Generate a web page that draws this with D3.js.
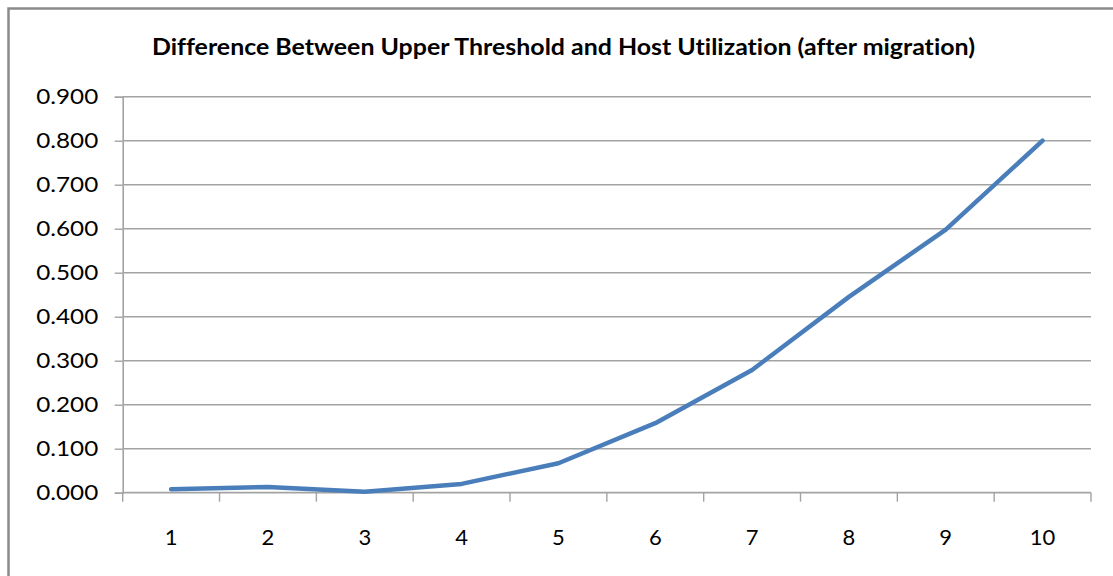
<!DOCTYPE html>
<html>
<head>
<meta charset="utf-8">
<script src="https://cdn.jsdelivr.net/npm/d3@7"></script>
<style>
  html, body { margin: 0; padding: 0; background: #fff; }
  svg { display: block; }
  text { font-family: Lato, "Open Sans", sans-serif; fill: #000; font-variant-ligatures: none; }
</style>
</head>
<body>
<svg id="chart" width="1113" height="576"></svg>
<script>
// Chart data
const categories = ["1", "2", "3", "4", "5", "6", "7", "8", "9", "10"];
const differenceValues = [0.008, 0.013, 0.002, 0.020, 0.067, 0.158, 0.279, 0.445, 0.598, 0.800];
const yTickValues = [0, 0.1, 0.2, 0.3, 0.4, 0.5, 0.6, 0.7, 0.8, 0.9];
const chartTitle = "Difference Between Upper Threshold and Host Utilization (after migration)";

const svg = d3.select("#chart");
const W = 1113, H = 576;
const plot = { left: 122.7, right: 1091, top: 96.7, bottom: 492.7 };

// Outer frame (runs off the right and bottom edges)
svg.append("rect")
  .attr("x", 8.5).attr("y", 8.5)
  .attr("width", W + 10).attr("height", H + 10)
  .attr("fill", "none")
  .attr("stroke", "#8a8a8a")
  .attr("stroke-width", 2.5);

// Title
svg.append("text")
  .attr("x", 152).attr("y", 54.5)
  .attr("textLength", 823)
  .attr("lengthAdjust", "spacingAndGlyphs")
  .style("font-size", "22px")
  .style("font-weight", "bold")
  .text(chartTitle);

const x = d3.scaleBand().domain(categories).range([plot.left, plot.right]).padding(0);
const y = d3.scaleLinear().domain([0, 0.9]).range([plot.bottom, plot.top]);

const gridColor = "#a3a3a3";

// Horizontal gridlines
svg.append("g")
  .selectAll("line")
  .data(yTickValues.filter(v => v > 0))
  .join("line")
  .attr("x1", plot.left).attr("x2", plot.right)
  .attr("y1", d => y(d)).attr("y2", d => y(d))
  .attr("stroke", gridColor)
  .attr("stroke-width", 1.4);

// Y axis
const yAxis = svg.append("g")
  .attr("transform", `translate(${plot.left},0)`)
  .call(d3.axisLeft(y).tickValues(yTickValues).tickFormat(d3.format(".3f")).tickSize(8).tickPadding(16.5));
yAxis.select(".domain").attr("stroke", gridColor).attr("stroke-width", 1.6);
yAxis.selectAll(".tick line").attr("stroke", gridColor).attr("stroke-width", 1.4);
yAxis.selectAll(".tick text")
  .style("font-size", "22px")
  .style("font-family", "Lato, 'Open Sans', sans-serif")
  .attr("textLength", 62)
  .attr("lengthAdjust", "spacingAndGlyphs")
  .attr("fill", "#000");

// X axis with ticks on category boundaries
const xg = svg.append("g").attr("transform", `translate(0,${plot.bottom})`);
xg.append("line")
  .attr("x1", plot.left).attr("x2", plot.right)
  .attr("stroke", gridColor).attr("stroke-width", 1.8);
const boundaries = categories.map(c => x(c)).concat([x(categories[categories.length - 1]) + x.bandwidth()]);
xg.selectAll("line.tick")
  .data(boundaries)
  .join("line")
  .attr("class", "tick")
  .attr("x1", d => d).attr("x2", d => d)
  .attr("y1", 0).attr("y2", 9)
  .attr("stroke", gridColor).attr("stroke-width", 1.4);
xg.selectAll("text")
  .data(categories)
  .join("text")
  .attr("x", d => x(d) + x.bandwidth() / 2)
  .attr("y", 52)
  .attr("text-anchor", "middle")
  .style("font-size", "22px")
  .text(d => d);

// Data line
const line = d3.line()
  .x((d, i) => x(categories[i]) + x.bandwidth() / 2)
  .y(d => y(d));
svg.append("path")
  .datum(differenceValues)
  .attr("d", line)
  .attr("fill", "none")
  .attr("stroke", "#4a7ebb")
  .attr("stroke-width", 4.5)
  .attr("stroke-linejoin", "round")
  .attr("stroke-linecap", "round");
</script>
</body>
</html>
